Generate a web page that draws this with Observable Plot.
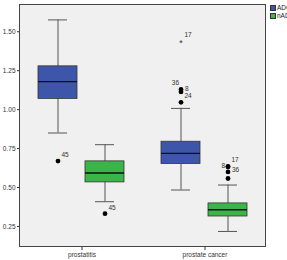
<!DOCTYPE html>
<html>
<head>
<meta charset="utf-8">
<script src="https://cdn.jsdelivr.net/npm/d3@7"></script>
<script src="https://cdn.jsdelivr.net/npm/@observablehq/plot@0.6"></script>
<style>
  body { margin: 0; background: #fff; font-family: "Liberation Sans", Arial, sans-serif; }
  #wrap { position: relative; width: 287px; height: 260px; overflow: hidden; }
  #legend { position: absolute; left: 270px; top: 4px; font-size: 6.5px; color: #222; line-height: 8px; }
  #legend .row { display: flex; align-items: center; white-space: nowrap; }
  #legend .sw { width: 4px; height: 4px; border: 0.8px solid #333; margin-right: 1px; }
</style>
</head>
<body>
<div id="wrap"><div id="legend"></div></div>
<script>
// Diagnosis groups and the two measurement series
const categories = ["prostatitis", "prostate cancer"];
const groups = ["ADC", "nADC"];
const colors = ["#3e56a9", "#3bb44a"];

// Box summaries, listed in the order prostatitis ADC, prostatitis nADC, cancer ADC, cancer nADC
const boxCategory = ["prostatitis", "prostatitis", "prostate cancer", "prostate cancer"];
const boxGroup = ["ADC", "nADC", "ADC", "nADC"];
const whiskerLow = [0.850, 0.409, 0.484, 0.218];
const quartile1 = [1.069, 0.533, 0.651, 0.314];
const median = [1.180, 0.593, 0.719, 0.357];
const quartile3 = [1.278, 0.668, 0.794, 0.398];
const whiskerHigh = [1.576, 0.775, 1.008, 0.516];

// Outlying cases (case id, value); extreme ones are drawn as stars
const outCategory = ["prostatitis", "prostatitis", "prostate cancer", "prostate cancer", "prostate cancer", "prostate cancer",
                     "prostate cancer", "prostate cancer", "prostate cancer", "prostate cancer"];
const outGroup = ["ADC", "nADC", "ADC", "ADC", "ADC", "ADC", "nADC", "nADC", "nADC", "nADC"];
const outValue = [0.670, 0.332, 1.047, 1.114, 1.130, 1.441, 0.636, 0.632, 0.600, 0.558];
const outCase = ["45", "45", "24", "8", "36", "17", "17", "8", "36", ""];
const outExtreme = [false, false, false, false, false, true, false, false, false, false];

const yTicks = [0.25, 0.50, 0.75, 1.00, 1.25, 1.50];

const boxes = boxCategory.map((c, i) => ({
  category: c, group: boxGroup[i], lo: whiskerLow[i], q1: quartile1[i],
  med: median[i], q3: quartile3[i], hi: whiskerHigh[i]
}));
const outliers = outCategory.map((c, i) => ({
  category: c, group: outGroup[i], value: outValue[i], id: outCase[i], extreme: outExtreme[i]
}));

// Case labels are placed around their point so that crowded ones stay readable
const key = (d) => `${d.category}|${d.group}|${d.id}`;
const placement = {
  "prostate cancer|ADC|36": "upperLeft",
  "prostate cancer|ADC|8": "right",
  "prostate cancer|nADC|8": "left",
  "prostate cancer|nADC|36": "right"
};
const placeOf = (d) => placement[key(d)] || "upperRight";
const labelled = outliers.filter(d => d.id);
const labelStyle = {
  upperRight: { textAnchor: "start", dx: 3.5, dy: -6 },
  upperLeft: { textAnchor: "end", dx: -2, dy: -6 },
  right: { textAnchor: "start", dx: 4, dy: -2.5 },
  left: { textAnchor: "end", dx: -3, dy: -1 }
};
const labelMarks = Object.keys(labelStyle).map(p =>
  Plot.text(labelled.filter(d => placeOf(d) === p), {
    fx: "category", x: "group", y: "value", text: "id", fill: "#333", ...labelStyle[p]
  })
);

const W = 287, H = 260;
const M = { left: 19, right: 21, top: 4, bottom: 13 };

const chart = Plot.plot({
  width: W,
  height: H,
  marginLeft: M.left,
  marginRight: M.right,
  marginTop: M.top,
  marginBottom: M.bottom,
  style: { fontFamily: "Liberation Sans, Arial, sans-serif", fontSize: "6.5px", color: "#333", background: "transparent" },
  fx: { domain: categories, paddingInner: 0, paddingOuter: 0, label: null, axis: "bottom", tickSize: 3, tickPadding: 2 },
  x: { domain: groups, paddingInner: 0.167, paddingOuter: 0.37, axis: null },
  y: { domain: [0.115, 1.675], ticks: yTicks, tickFormat: ".2f", tickSize: 3, tickPadding: 2, label: null },
  color: { domain: groups, range: colors },
  marks: [
    Plot.ruleX(boxes, { fx: "category", x: "group", y1: "lo", y2: "hi", stroke: "#555", strokeWidth: 1 }),
    Plot.tickY(boxes, { fx: "category", x: "group", y: "lo", stroke: "#555", insetLeft: 10, insetRight: 10 }),
    Plot.tickY(boxes, { fx: "category", x: "group", y: "hi", stroke: "#555", insetLeft: 10, insetRight: 10 }),
    Plot.barY(boxes, { fx: "category", x: "group", y1: "q1", y2: "q3", fill: "group", stroke: "#333", strokeWidth: 0.8 }),
    Plot.tickY(boxes, { fx: "category", x: "group", y: "med", stroke: "#111", strokeWidth: 1.4 }),
    Plot.dot(outliers.filter(d => !d.extreme), { fx: "category", x: "group", y: "value", r: 2.4, fill: "#000", stroke: null }),
    Plot.text(outliers.filter(d => d.extreme), { fx: "category", x: "group", y: "value", text: () => "*", fontSize: 9, dy: 2, fill: "#333" }),
    ...labelMarks
  ]
});

// One gray panel behind both facets, and a single outline around it
const svg = d3.select(chart);
svg.insert("rect", ":first-child")
  .attr("x", M.left).attr("y", M.top)
  .attr("width", W - M.left - M.right).attr("height", H - M.top - M.bottom)
  .attr("fill", "#f0f0f0");
svg.append("rect")
  .attr("x", M.left + 0.5).attr("y", M.top + 0.5)
  .attr("width", W - M.left - M.right - 1).attr("height", H - M.top - M.bottom - 1)
  .attr("fill", "none").attr("stroke", "#444").attr("stroke-width", 1);

document.getElementById("wrap").prepend(chart);

// Legend swatches for the two series
const legend = d3.select("#legend");
groups.forEach((g, i) => {
  const row = legend.append("div").attr("class", "row");
  row.append("div").attr("class", "sw").style("background", colors[i]);
  row.append("span").text(g);
});
</script>
</body>
</html>
